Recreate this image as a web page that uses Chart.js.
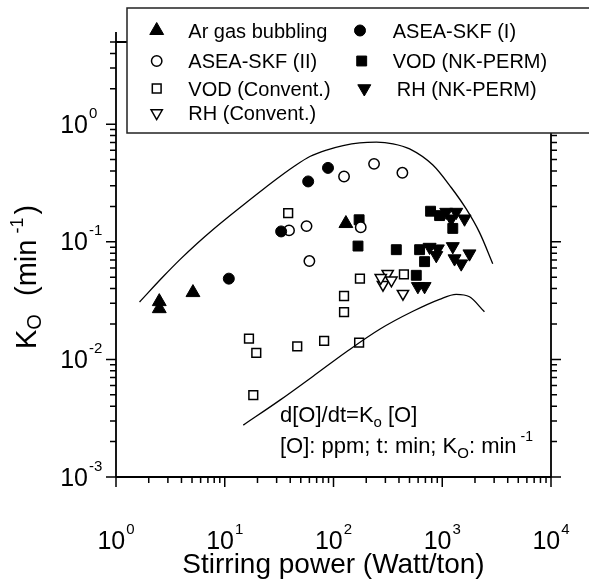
<!DOCTYPE html>
<html><head><meta charset="utf-8">
<script src="https://cdn.jsdelivr.net/npm/chart.js@4/dist/chart.umd.min.js"></script>
<style>html,body{margin:0;padding:0;background:#fff;}canvas{display:block;}</style>
</head><body>
<canvas id="c" width="589" height="581" style="width:589px;height:581px"></canvas>
<script>
const FONT = '"Liberation Sans", Arial, sans-serif';

// tick decades (exponents of 10)
const xTickExps = [0, 1, 2, 3, 4];
const yTickExps = [-3, -2, -1, 0];
const xTitle = 'Stirring power (Watt/ton)';

// series
const arX = [2.5, 2.5, 5.1, 130];
const arY = [0.031, 0.027, 0.037, 0.143];
const aseaIX = [10.9, 33, 58.5, 89];
const aseaIY = [0.0486, 0.1225, 0.326, 0.425];
const aseaIIX = [39, 56.5, 60, 178, 125, 236, 430];
const aseaIIY = [0.125, 0.136, 0.0686, 0.133, 0.359, 0.46, 0.386];
const vodConvX = [38.3, 175, 125, 125, 444, 16.7, 19.5, 46.4, 82, 172, 18.3];
const vodConvY = [0.175, 0.0486, 0.0346, 0.0252, 0.0528, 0.0150, 0.01135, 0.0129, 0.01435, 0.0139, 0.00497];
const rhConvX = [315, 285, 341, 435, 272];
const rhConvY = [0.0536, 0.0432, 0.047, 0.0362, 0.0494];
const vodNkX = [172, 168, 378, 619, 688, 577, 781, 945, 1250];
const vodNkY = [0.154, 0.092, 0.0857, 0.0857, 0.0678, 0.0519, 0.182, 0.167, 0.130];
const rhNkX = [1088, 1344, 1210, 1603, 765, 911, 881, 1250, 1297, 1494, 1779, 597, 688];
const rhNkY = [0.179, 0.179, 0.157, 0.157, 0.0902, 0.0874, 0.0767, 0.0914, 0.072, 0.0652, 0.0793, 0.0418, 0.0418];

// boundary curves
const upperX = [1.646, 2.733, 3.89, 5.536, 7.862, 11.19, 15.92, 22.6, 32.17, 42.6, 60.61, 86.27, 122.5, 174.3, 248, 352.3, 501.2, 820, 1209, 1661, 2199, 2912];
const upperY = [0.0308, 0.0509, 0.0709, 0.0964, 0.1281, 0.1675, 0.2173, 0.2802, 0.3591, 0.4323, 0.5309, 0.6028, 0.658, 0.6937, 0.7032, 0.6817, 0.6171, 0.4496, 0.2896, 0.1902, 0.1202, 0.0652];
const lowerX = [14.81, 32.17, 64.99, 131.6, 265.9, 537.5, 944.6, 1344, 1780, 2444];
const lowerY = [0.002763, 0.004503, 0.0072, 0.01162, 0.01805, 0.02566, 0.03243, 0.03577, 0.03406, 0.0254];

const zip = (xs, ys) => xs.map((x, i) => ({x, y: ys[i]}));

const styles = {
  ar:     {label: 'Ar gas bubbling', style: 'triangle', rot: 0,   r: 8,   fill: true},
  aseaI:  {label: 'ASEA-SKF (I)',    style: 'circle',   rot: 0,   r: 5.5, fill: true},
  aseaII: {label: 'ASEA-SKF (II)',   style: 'circle',   rot: 0,   r: 5.2, fill: false},
  vodNk:  {label: 'VOD (NK-PERM)',   style: 'rect',     rot: 0,   r: 7,   fill: true},
  vodConv:{label: 'VOD (Convent.)',  style: 'rect',     rot: 0,   r: 6.2, fill: false},
  rhNk:   {label: 'RH (NK-PERM)',    style: 'triangle', rot: 180, r: 7.5, fill: true},
  rhConv: {label: 'RH (Convent.)',   style: 'triangle', rot: 180, r: 6.5, fill: false}
};

function ds(key, xs, ys) {
  const s = styles[key];
  return {
    label: s.label, data: zip(xs, ys), showLine: false,
    pointStyle: s.style, rotation: s.rot, pointRadius: s.r, pointHoverRadius: s.r,
    backgroundColor: s.fill ? '#000' : '#fff', borderColor: '#000',
    borderWidth: s.fill ? 1 : 1.5
  };
}
function curve(xs, ys) {
  return {label: 'curve', data: zip(xs, ys), showLine: true, pointRadius: 0,
    borderColor: '#000', borderWidth: 1.3, cubicInterpolationMode: 'monotone', fill: false};
}

function drawMarker(ctx, s, x, y) {
  ctx.save();
  ctx.beginPath();
  const r = s.r;
  if (s.style === 'circle') {
    ctx.arc(x, y, r, 0, Math.PI * 2);
  } else if (s.style === 'rect') {
    const h = Math.SQRT1_2 * r;
    ctx.rect(x - h, y - h, 2 * h, 2 * h);
  } else {
    let rad = s.rot * Math.PI / 180;
    for (let i = 0; i < 3; i++) {
      const px = x + Math.sin(rad) * r, py = y - Math.cos(rad) * r;
      if (i === 0) ctx.moveTo(px, py); else ctx.lineTo(px, py);
      rad += 2 * Math.PI / 3;
    }
    ctx.closePath();
  }
  ctx.fillStyle = s.fill ? '#000' : '#fff';
  ctx.fill();
  ctx.lineWidth = s.fill ? 1 : 1.5;
  ctx.strokeStyle = '#000';
  ctx.stroke();
  ctx.restore();
}

function runWidth(ctx, parts) {
  let w = 0;
  for (const p of parts) { ctx.font = p.size + 'px ' + FONT; w += ctx.measureText(p.t).width + (p.dx || 0); }
  return w;
}
function drawRun(ctx, parts, x, y) {
  let cx = x;
  for (const p of parts) {
    ctx.font = p.size + 'px ' + FONT;
    ctx.fillText(p.t, cx + (p.dx || 0), y + (p.dy || 0));
    cx += ctx.measureText(p.t).width + (p.dx || 0);
  }
  return cx;
}

const decor = {
  id: 'decor',
  afterDraw(chart) {
    const ctx = chart.ctx;
    const xs = chart.scales.x, ys = chart.scales.y;
    const ca = chart.chartArea;
    const L = ca.left, R = ca.right, T = ca.top, B = ca.bottom;
    ctx.save();
    ctx.strokeStyle = '#000';
    ctx.fillStyle = '#000';
    ctx.textBaseline = 'alphabetic';
    ctx.textAlign = 'left';

    // frame
    ctx.lineWidth = 1.8;
    ctx.beginPath();
    ctx.moveTo(L, 32); ctx.lineTo(L, B);
    ctx.moveTo(L, B); ctx.lineTo(R, B);
    ctx.moveTo(R, T); ctx.lineTo(R, B);
    ctx.moveTo(L, T); ctx.lineTo(R, T);
    ctx.stroke();

    // ticks
    ctx.lineWidth = 1.5;
    ctx.beginPath();
    const xLast = xTickExps[xTickExps.length - 1];
    for (let e = xTickExps[0]; e <= xLast; e++) {
      const px = xs.getPixelForValue(Math.pow(10, e));
      ctx.moveTo(px, B); ctx.lineTo(px, B + 10);
      if (e < xLast) {
        for (let k = 2; k <= 9; k++) {
          const p = xs.getPixelForValue(k * Math.pow(10, e));
          ctx.moveTo(p, B); ctx.lineTo(p, B + 6);
        }
      }
    }
    const yMax = ys.max;
    for (let e = yTickExps[0]; e <= yTickExps[yTickExps.length - 1]; e++) {
      const py = ys.getPixelForValue(Math.pow(10, e));
      ctx.moveTo(L, py); ctx.lineTo(L - 10, py);
      ctx.moveTo(R, py); ctx.lineTo(R + 10, py);
      for (let k = 2; k <= 9; k++) {
        const v = k * Math.pow(10, e);
        if (v > yMax + 1e-9) break;
        const p = ys.getPixelForValue(v);
        ctx.moveTo(L, p); ctx.lineTo(L - 6, p);
        ctx.moveTo(R, p); ctx.lineTo(R + 6, p);
      }
    }
    ctx.stroke();

    // x tick labels
    for (const e of xTickExps) {
      const px = xs.getPixelForValue(Math.pow(10, e));
      const parts = [{t: '10', size: 25}, {t: String(e), size: 15, dy: -15, dx: 1}];
      const w = runWidth(ctx, parts);
      drawRun(ctx, parts, px - w / 2, 549);
    }
    // y tick labels
    for (const e of yTickExps) {
      const py = ys.getPixelForValue(Math.pow(10, e));
      ctx.font = '25px ' + FONT;
      const w10 = ctx.measureText('10').width;
      drawRun(ctx, [{t: '10', size: 25}, {t: String(e), size: 15, dy: -15, dx: 1}], 88 - w10, py + 8.5);
    }

    // x title
    ctx.font = '28px ' + FONT;
    const tw = ctx.measureText(xTitle).width;
    ctx.fillText(xTitle, (L + R) / 2 - tw / 2, 573);

    // y title (rotated)
    ctx.save();
    ctx.translate(36, 349);
    ctx.rotate(-Math.PI / 2);
    drawRun(ctx, [
      {t: 'K', size: 29}, {t: 'O', size: 20, dy: 5}, {t: '  (min', size: 29, dx: 2},
      {t: ' -1', size: 18, dy: -13, dx: 1}, {t: ')', size: 29, dx: 3}
    ], 0, 0);
    ctx.restore();

    // equation annotation
    drawRun(ctx, [{t: 'd[O]/dt=K', size: 22}, {t: 'o', size: 15, dy: 5}, {t: ' [O]', size: 22}], 280, 422);
    drawRun(ctx, [{t: '[O]: ppm; t: min; K', size: 22}, {t: 'O', size: 15, dy: 5}, {t: ': min', size: 22},
      {t: ' -1', size: 14, dy: -12}], 280, 453);

    // legend box
    ctx.fillStyle = '#fff';
    ctx.fillRect(127, 8, 480, 125);
    ctx.strokeStyle = '#222';
    ctx.lineWidth = 1.5;
    ctx.strokeRect(127, 8, 480, 125);
    const entries = [
      ['ar', 156.7, 30.5, 188.3], ['aseaI', 360, 30.5, 392.7],
      ['aseaII', 156.7, 61, 188.3], ['vodNk', 361.7, 61, 392.7],
      ['vodConv', 156.7, 88.5, 188.3], ['rhNk', 364.3, 88.5, 396.7],
      ['rhConv', 156.7, 113, 188.3]
    ];
    for (const [key, mx, my, tx] of entries) {
      drawMarker(ctx, styles[key], mx, my);
      ctx.fillStyle = '#000';
      ctx.font = '20px ' + FONT;
      ctx.fillText(styles[key].label, tx, my + 7);
    }
    ctx.restore();
  }
};

new Chart(document.getElementById('c'), {
  type: 'scatter',
  data: {
    datasets: [
      curve(upperX, upperY),
      curve(lowerX, lowerY),
      ds('ar', arX, arY),
      ds('aseaI', aseaIX, aseaIY),
      ds('aseaII', aseaIIX, aseaIIY),
      ds('vodConv', vodConvX, vodConvY),
      ds('rhConv', rhConvX, rhConvY),
      ds('vodNk', vodNkX, vodNkY),
      ds('rhNk', rhNkX, rhNkY)
    ]
  },
  options: {
    responsive: false, animation: false, devicePixelRatio: 1,
    layout: {padding: {left: 116, right: 38, top: 42, bottom: 104}},
    plugins: {legend: {display: false}, tooltip: {enabled: false}},
    scales: {
      x: {type: 'logarithmic', min: 1, max: 10000, display: false},
      y: {type: 'logarithmic', min: 0.001, max: 5, display: false}
    }
  },
  plugins: [decor]
});
</script>
</body></html>
